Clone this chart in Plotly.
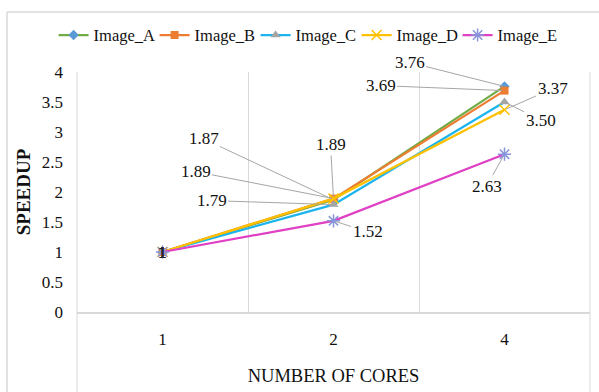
import plotly.graph_objects as go

# Speedup per number of cores for each image
cores = ["1", "2", "4"]
series_names = ["Image_A", "Image_B", "Image_C", "Image_D", "Image_E"]
speedup_a = [1.00, 1.87, 3.76]
speedup_b = [1.00, 1.89, 3.69]
speedup_c = [1.00, 1.79, 3.50]
speedup_d = [1.00, 1.89, 3.37]
speedup_e = [1.00, 1.52, 2.63]

line_colors = ["#70AD47", "#ED7D31", "#1BB4EE", "#FFC000", "#E040C4"]
marker_colors = ["#5B9BD5", "#ED7D31", "#A5A5A5", "#FFC000", "#8796DC"]
marker_symbols = ["diamond", "square", "triangle-up", "x-thin-open", "asterisk-open"]
marker_sizes = [8, 8, 9, 10, 11]

all_series = [speedup_a, speedup_b, speedup_c, speedup_d, speedup_e]

# pixel offsets (dx, dy) of each data label from its point, per series and core count
label_offsets = [
    [None, (-130, -61), (-95, -24)],
    [None, (-138, -27), (-124, -5)],
    [None, (-122, -4), (36, 18)],
    [None, (-3, -54), (48, -21)],
    [None, (34, 11), (-18, 32)],
]

FONT = "Liberation Serif, Times New Roman, serif"
GRID = "#D9D9D9"

fig = go.Figure()
for name, vals, lc, mc, sym, ms in zip(series_names, all_series, line_colors,
                                       marker_colors, marker_symbols, marker_sizes):
    fig.add_trace(go.Scatter(
        x=cores, y=vals, name=name, mode="lines+markers",
        line=dict(color=lc, width=2.25),
        marker=dict(symbol=sym, size=ms, color=mc,
                    line=dict(color=mc, width=1.5 if "open" in sym else 0)),
    ))

annotations = []
for vals, offs in zip(all_series, label_offsets):
    # category positions are addressed by index on the category axis
    for idx, (v, off) in enumerate(zip(vals, offs)):
        if off is None:
            annotations.append(dict(
                x=idx, y=v, xref="x", yref="y", text=f"{v:g}", showarrow=False,
                font=dict(family=FONT, size=17, color="#222222")))
        else:
            annotations.append(dict(
                x=idx, y=v, xref="x", yref="y", text=f"{v:.2f}",
                showarrow=True, ax=off[0], ay=off[1], arrowhead=0,
                arrowwidth=1, arrowcolor="#A6A6A6", standoff=2,
                font=dict(family=FONT, size=17, color="#111111")))

shapes = [
    # chart-area frame
    dict(type="line", xref="paper", yref="paper", x0=-0.1365, x1=-0.1365, y0=1.25, y1=-0.4,
         line=dict(color=GRID, width=1.5)),
    dict(type="line", xref="paper", yref="paper", x0=-0.1365, x1=1.05, y0=1.25, y1=1.25,
         line=dict(color=GRID, width=1.5)),
    # plot-area side lines running down through the category labels
    dict(type="line", xref="paper", yref="paper", x0=0, x1=0, y0=1, y1=-0.4,
         line=dict(color=GRID, width=1)),
    dict(type="line", xref="paper", yref="paper", x0=1, x1=1, y0=1, y1=-0.4,
         line=dict(color=GRID, width=1)),
]

fig.update_layout(
    width=599, height=392,
    margin=dict(l=77, r=9, t=72, b=80, autoexpand=False),
    paper_bgcolor="white", plot_bgcolor="white",
    font=dict(family=FONT, size=16, color="#111111"),
    showlegend=True,
    legend=dict(orientation="h", xref="container", yref="container",
                x=0.511, xanchor="center", y=0.91, yanchor="middle",
                font=dict(family=FONT, size=16.5, color="#111111"),
                itemwidth=30, tracegroupgap=0,
                entrywidth=56, entrywidthmode="pixels"),
    xaxis=dict(type="category", range=[-0.5, 2.5], tickson="boundaries",
               showgrid=True, gridcolor=GRID, gridwidth=1,
               showline=True, linecolor=GRID, linewidth=2,
               ticks="", ticklabelstandoff=11, zeroline=False,
               tickfont=dict(family=FONT, size=17),
               title=dict(text="NUMBER OF CORES", standoff=21,
                          font=dict(family=FONT, size=18.5))),
    yaxis=dict(range=[0, 4], dtick=0.5, tick0=0, showgrid=False, zeroline=False,
               showline=False, ticks="", ticklabelstandoff=13,
               tickfont=dict(family=FONT, size=17),
               title=dict(text="<b>SPEEDUP</b>", standoff=6,
                          font=dict(family=FONT, size=19))),
    annotations=annotations,
    shapes=shapes,
)

fig.write_html("out.html")
